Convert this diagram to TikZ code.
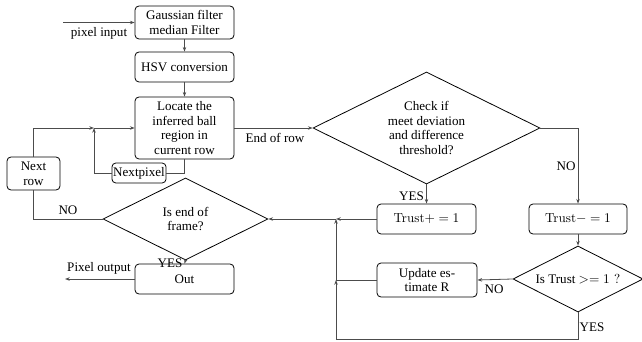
\documentclass[tikz,border=0pt]{standalone}
\usepackage[no-math]{fontspec}
\setmainfont{Liberation Serif}
\newfontfamily\lmfont{Latin Modern Roman}
\usetikzlibrary{shapes.geometric,arrows.meta}
\tikzset{
  txt/.style={font=\fontsize{9.8}{11.2}\selectfont},
  procbox/.style={txt, draw, rounded corners=3pt, line width=0.6pt, align=center, inner sep=1pt},
  decision/.style={txt, draw, diamond, aspect=2, inner sep=0pt, line width=0.6pt, align=center},
  flow/.style={draw=black!70, line width=0.6pt, -{Stealth[length=3.5pt,width=2.6pt]}},
  link/.style={draw=black!70, line width=0.6pt},
  lbl/.style={txt, inner sep=0pt},
}
\begin{document}
\begin{tikzpicture}[x=0.75pt,y=-0.75pt]
\useasboundingbox (0,0) rectangle (642,342);

% processing chain
\node[procbox, minimum width=74.25pt, minimum height=24.75pt] (gauss) at (184.5,22.5) {Gaussian filter\\median Filter};
\node[procbox, minimum width=74.25pt, minimum height=22.5pt] (hsv) at (184.5,67) {HSV conversion};
\node[procbox, minimum width=74.25pt, minimum height=46.5pt] (locate) at (184.5,128) {Locate the\\inferred ball\\region in\\current row};
\node[procbox, minimum width=40.5pt, minimum height=15pt] (nextpix) at (139,173) {Nextpixel};
\node[procbox, minimum width=39.75pt, minimum height=24.75pt] (nextrow) at (33.5,173.5) {Next\\row};
\node[procbox, minimum width=74.25pt, minimum height=22.5pt] (out) at (184.5,279) {Out};
\node[procbox, minimum width=74.25pt, minimum height=22.5pt] (trustp) at (426.5,219) {{\lmfont Trust}$+=1$};
\node[procbox, minimum width=73.5pt, minimum height=22.5pt] (trustm) at (578,219) {{\lmfont Trust}$-=1$};
\node[procbox, minimum width=75pt, minimum height=25.5pt] (update) at (427,280) {Update es-\\timate R};

% decisions
\node[decision, minimum width=170.25pt, minimum height=84pt] (check) at (426.5,128) {Check if\\meet deviation\\and difference\\threshold?};
\node[decision, minimum width=97.5pt, minimum height=49.5pt] (trustq) at (578,279) {Is Trust {\lmfont$>=1$ ?}};
\node[decision, minimum width=123.75pt, minimum height=61.5pt] (endframe) at (185.5,219) {Is end of\\frame?};

% routing points
\coordinate (in) at (63,22.5);
\coordinate (outend) at (65,279);
\coordinate (j1) at (94,128);
\coordinate (j2) at (336,219);
\coordinate (j3) at (336,280);
\coordinate (b2) at (336,339);

% connectors
\draw[flow] (in) -- (gauss.west);
\draw[flow] (gauss) -- (hsv);
\draw[flow] (hsv) -- (locate);
\draw[flow] (locate.east) -- (check.west);
\draw[flow] (check.south) -- (trustp.north);
\draw[flow] (check.east) -| (trustm.north);
\draw[flow] (trustm) -- (trustq);
\draw[flow] (trustq.west) -- (update.east);
\draw[link] (update.west) -- (j3);
\draw[link] (trustq.south) |- (b2);
\draw[flow] (b2) -- (j3);
\draw[flow] (j3) -- (j2);
\draw[flow] (trustp.west) -- (j2);
\draw[flow] (j2) -- (endframe.east);
\draw[flow] (endframe.south) -- (out.north);
\draw[flow] (out.west) -- (outend);
\draw[link] (endframe.west) -| (nextrow.south);
\draw[flow] (nextrow.north) |- (j1);
\draw[flow] (j1) -- (locate.west);
\draw[link] (locate.south) |- (nextpix.east);
\draw[flow] (nextpix.west) -| (j1);

% labels
\node[lbl] (lin) at (99,33) {pixel input};
\node[lbl] (lrow) at (275,138) {End of row};
\node[lbl] (lyes1) at (411.5,196) {YES};
\node[lbl] (lno1) at (566,166) {NO};
\node[lbl] (lno2) at (68,210) {NO};
\node[lbl] (lyes2) at (170,263) {YES};
\node[lbl] (lout) at (99,268) {Pixel output};
\node[lbl] (lno3) at (494,289) {NO};
\node[lbl] (lyes3) at (592,327) {YES};
\end{tikzpicture}
\end{document}
